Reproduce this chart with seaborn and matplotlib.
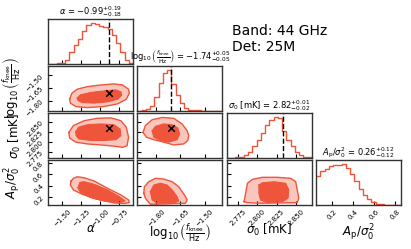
import numpy as np
import pandas as pd
import matplotlib
matplotlib.use("Agg")
import matplotlib.pyplot as plt
import seaborn as sns

COLOR = "#ef553b"

# ---------------- parameters ----------------
labels = [r"$\alpha$",
          r"$\log_{10}\left(\frac{f_{\rm knee}}{\rm Hz}\right)$",
          r"$\sigma_0$ [mK]",
          r"$A_{\rm p}/\sigma_0^2$"]
titles = [r"$\alpha$ = ${-0.99}_{-0.18}^{+0.19}$",
          r"$\log_{10}\left(\frac{f_{\rm knee}}{\rm Hz}\right)$ = ${-1.74}_{-0.05}^{+0.05}$",
          r"$\sigma_0$ [mK] = ${2.82}_{-0.02}^{+0.01}$",
          r"$A_{\rm p}/\sigma_0^2$ = ${0.26}_{-0.12}^{+0.12}$"]
ranges = [(-1.681, -0.570), (-1.915, -1.390), (2.760, 2.871), (0.05, 0.86)]
truths = [-0.89, -1.707, 2.833, None]
ticks = [[-1.50, -1.25, -1.00, -0.75],
         [-1.80, -1.65, -1.50],
         [2.775, 2.800, 2.825, 2.850],
         [0.2, 0.4, 0.6, 0.8]]
tick_labels = [["\u22121.50", "\u22121.25", "\u22121.00", "\u22120.75"],
               ["\u22121.80", "\u22121.65", "\u22121.50"],
               ["2.775", "2.800", "2.825", "2.850"],
               ["0.2", "0.4", "0.6", "0.8"]]
annotation = "Band: 44 GHz\nDet: 25M"

# ---------------- 1D marginal histograms (20 bins, relative heights) ----------------
hist_alpha = [0.0, 0.0, 0.01, 0.03, 0.10, 0.30, 0.45, 0.60, 0.80, 0.95,
              1.00, 0.97, 0.93, 0.90, 0.85, 0.70, 0.50, 0.30, 0.08, 0.01]
hist_fknee = [0.0, 0.02, 0.05, 0.12, 0.35, 0.68, 0.93, 1.00, 0.65, 0.38,
              0.18, 0.07, 0.03, 0.015, 0.01, 0.005, 0.005, 0.0, 0.0, 0.0]
hist_sigma0 = [0.0, 0.0, 0.01, 0.02, 0.06, 0.15, 0.28, 0.45, 0.62, 0.80,
               0.92, 1.00, 0.97, 0.65, 0.45, 0.28, 0.14, 0.06, 0.02, 0.01]
hist_ap = [0.70, 0.83, 0.89, 0.95, 0.97, 0.98, 1.00, 0.90, 0.75, 0.58,
           0.40, 0.25, 0.14, 0.07, 0.03, 0.02, 0.01, 0.0, 0.0, 0.0]
hists = [hist_alpha, hist_fknee, hist_sigma0, hist_ap]

# ---------------- 2D credible-region outlines (39% inner, 86% outer) ----------------
# alpha vs log10 fknee
a_f_outer_x = [-1.40, -1.37, -1.30, -1.17, -0.99, -0.82, -0.71, -0.63, -0.62, -0.66, -0.77, -0.95, -1.17, -1.32, -1.39]
a_f_outer_y = [-1.779, -1.709, -1.662, -1.632, -1.612, -1.600, -1.612, -1.662, -1.709, -1.779, -1.833, -1.865, -1.877, -1.865, -1.825]
a_f_inner_x = [-1.30, -1.26, -1.125, -0.95, -0.795, -0.73, -0.72, -0.77, -0.905, -1.08, -1.235, -1.29]
a_f_inner_y = [-1.767, -1.728, -1.700, -1.682, -1.670, -1.693, -1.732, -1.779, -1.810, -1.825, -1.818, -1.795]
# alpha vs sigma0
a_s_outer_x = [-1.41, -1.35, -1.21, -1.04, -0.86, -0.73, -0.66, -0.63, -0.65, -0.71, -0.82, -0.99, -1.17, -1.32, -1.40]
a_s_outer_y = [2.823, 2.840, 2.852, 2.858, 2.859, 2.852, 2.836, 2.811, 2.790, 2.786, 2.789, 2.792, 2.7945, 2.799, 2.809]
a_s_inner_x = [-1.32, -1.28, -1.17, -0.99, -0.82, -0.74, -0.73, -0.795, -0.95, -1.125, -1.28, -1.315]
a_s_inner_y = [2.825, 2.836, 2.842, 2.844, 2.842, 2.8315, 2.815, 2.805, 2.803, 2.803, 2.807, 2.815]
# alpha vs Ap
a_a_outer_x = [-1.38, -1.35, -1.30, -1.21, -1.08, -0.905, -0.73, -0.63, -0.62, -0.685, -0.82, -1.04, -1.235, -1.35, -1.39]
a_a_outer_y = [0.482, 0.531, 0.559, 0.541, 0.482, 0.351, 0.230, 0.140, 0.091, 0.077, 0.086, 0.153, 0.243, 0.320, 0.410]
a_a_inner_x = [-1.29, -1.265, -1.21, -1.08, -0.905, -0.75, -0.675, -0.75, -0.95, -1.125, -1.26]
a_a_inner_y = [0.361, 0.459, 0.469, 0.423, 0.320, 0.199, 0.122, 0.091, 0.122, 0.181, 0.279]
# log10 fknee vs sigma0
f_s_outer_x = [-1.88, -1.866, -1.824, -1.762, -1.691, -1.639, -1.608, -1.598, -1.604, -1.629, -1.691, -1.753, -1.814, -1.859]
f_s_outer_y = [2.823, 2.840, 2.8545, 2.860, 2.858, 2.844, 2.827, 2.815, 2.803, 2.7945, 2.792, 2.799, 2.805, 2.811]
f_s_inner_x = [-1.824, -1.804, -1.753, -1.700, -1.666, -1.654, -1.670, -1.722, -1.773, -1.814]
f_s_inner_y = [2.827, 2.838, 2.844, 2.842, 2.834, 2.819, 2.805, 2.799, 2.803, 2.811]
# log10 fknee vs Ap
f_a_outer_x = [-1.876, -1.872, -1.845, -1.804, -1.753, -1.700, -1.660, -1.639, -1.618, -1.608, -1.618, -1.742, -1.835, -1.866]
f_a_outer_y = [0.261, 0.379, 0.469, 0.531, 0.518, 0.469, 0.379, 0.289, 0.199, 0.140, 0.081, 0.068, 0.063, 0.171]
f_a_inner_x = [-1.835, -1.814, -1.773, -1.732, -1.700, -1.670, -1.660, -1.691, -1.793, -1.824]
f_a_inner_y = [0.289, 0.410, 0.441, 0.410, 0.320, 0.199, 0.122, 0.081, 0.081, 0.140]
# sigma0 vs Ap
s_a_outer_x = [2.7826, 2.787, 2.7936, 2.8066, 2.8262, 2.8436, 2.850, 2.852, 2.854, 2.852, 2.804, 2.787]
s_a_outer_y = [0.109, 0.441, 0.513, 0.549, 0.549, 0.531, 0.469, 0.320, 0.171, 0.091, 0.081, 0.091]
s_a_inner_x = [2.802, 2.8066, 2.822, 2.837, 2.841, 2.840, 2.8327, 2.8132, 2.804, 2.802]
s_a_inner_y = [0.410, 0.451, 0.469, 0.441, 0.320, 0.171, 0.109, 0.091, 0.140, 0.261]

regions = {
    (1, 0): (a_f_outer_x, a_f_outer_y, a_f_inner_x, a_f_inner_y),
    (2, 0): (a_s_outer_x, a_s_outer_y, a_s_inner_x, a_s_inner_y),
    (3, 0): (a_a_outer_x, a_a_outer_y, a_a_inner_x, a_a_inner_y),
    (2, 1): (f_s_outer_x, f_s_outer_y, f_s_inner_x, f_s_inner_y),
    (3, 1): (f_a_outer_x, f_a_outer_y, f_a_inner_x, f_a_inner_y),
    (3, 2): (s_a_outer_x, s_a_outer_y, s_a_inner_x, s_a_inner_y),
}

# ---------------- figure ----------------
plt.rcParams.update({
    "xtick.direction": "in", "ytick.direction": "in",
    "xtick.labelsize": 5, "ytick.labelsize": 5,
    "xtick.major.size": 3, "ytick.major.size": 3,
    "xtick.major.pad": 2.5, "ytick.major.pad": 2.5,
    "axes.linewidth": 1.0, "axes.edgecolor": "#333333",
})
fig, axes = plt.subplots(4, 4, figsize=(4.11, 2.49), dpi=100)
fig.subplots_adjust(left=0.117, right=0.976, bottom=0.177, top=0.924,
                    wspace=0.05, hspace=0.05)

n = 4
for i in range(n):
    for j in range(n):
        ax = axes[i, j]
        if j > i:
            ax.axis("off")
            continue
        if i == j:
            edges = np.linspace(ranges[j][0], ranges[j][1], len(hists[j]) + 1)
            df = pd.DataFrame({"value": 0.5 * (edges[:-1] + edges[1:]),
                               "weight": np.asarray(hists[j], dtype=float)})
            sns.histplot(data=df, x="value", weights="weight", bins=len(hists[j]),
                         binrange=ranges[j], element="step",
                         fill=False, color=COLOR, linewidth=1.0, ax=ax)
            ax.set_ylim(0, 1.1 * max(hists[j]))
            ax.set_yticks([])
            ax.set_ylabel("")
            if truths[j] is not None:
                ax.axvline(truths[j], color="k", ls="--", lw=1.0)
            ax.set_title(titles[j], fontsize=6, pad=2)
        else:
            ox, oy, ix, iy = regions[(i, j)]
            ax.fill(ox, oy, color=COLOR, alpha=1 / 3, lw=0)
            ax.fill(ix, iy, color=COLOR, lw=0)
            ax.plot(list(ox) + [ox[0]], list(oy) + [oy[0]], color=COLOR, lw=1.0)
            ax.plot(list(ix) + [ix[0]], list(iy) + [iy[0]], color=COLOR, lw=0.8)
            ax.set_ylim(ranges[i])
            ax.set_yticks(ticks[i])
            if truths[i] is not None and truths[j] is not None:
                sns.scatterplot(x=[truths[j]], y=[truths[i]], marker="x", color="k",
                                s=22, linewidth=1.1, ax=ax, zorder=5)
            if j == 0:
                ax.set_yticklabels(tick_labels[i], rotation=45)
                ax.set_ylabel(labels[i], fontsize=8.5)
                ax.yaxis.set_label_coords(-0.3, 0.5)
            else:
                ax.set_yticklabels([])
                ax.set_ylabel("")
        ax.set_xlim(ranges[j])
        ax.set_xticks(ticks[j])
        if i == n - 1:
            ax.set_xticklabels(tick_labels[j], rotation=45)
            ax.set_xlabel(labels[j], fontsize=8.5)
            ax.xaxis.set_label_coords(0.5, -0.38)
        else:
            ax.set_xticklabels([])
            ax.set_xlabel("")

fig.text(232 / 411, 1 - 24 / 249, annotation, fontsize=10, va="top", ha="left")
fig.savefig("out.png", dpi=100)
